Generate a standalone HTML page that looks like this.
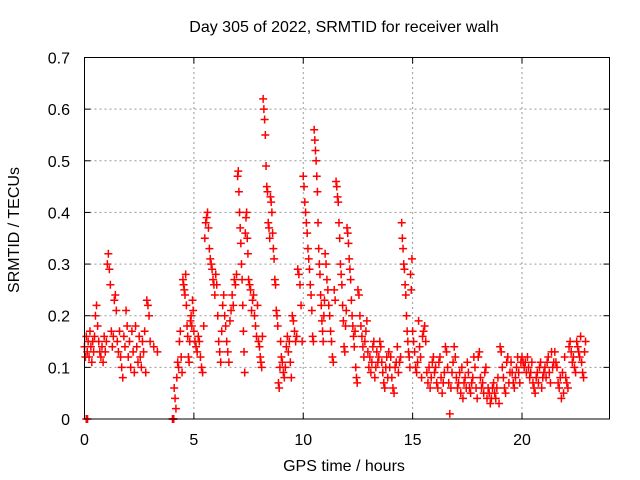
<!DOCTYPE html>
<html><head><meta charset="utf-8">
<style>
body{margin:0;background:#fff;}
svg{display:block;font-family:"Liberation Sans",sans-serif;}
</style></head>
<body>
<svg id="chart" width="640" height="480" viewBox="0 0 640 480" xmlns="http://www.w3.org/2000/svg">
<rect x="0" y="0" width="640" height="480" fill="#fff"/>
<text x="344" y="32" font-size="16" text-anchor="middle" fill="#000">Day 305 of 2022, SRMTID for receiver walh</text>
<text x="0" y="0" font-size="16" text-anchor="middle" fill="#000" transform="translate(19,230) rotate(-90)">SRMTID / TECUs</text>
<text x="344" y="471" font-size="16" text-anchor="middle" fill="#000">GPS time / hours</text>
<g id="grid"></g>
<g id="ticks"></g>
<g id="marks"></g>
<rect x="84.5" y="57.5" width="525" height="361.5" fill="none" stroke="#000" stroke-width="1"/>
</svg>
<script>
const xTicks = [0, 5, 10, 15, 20];
const yTicks = [0, 0.1, 0.2, 0.3, 0.4, 0.5, 0.6, 0.7];
const yTickLabels = ["0", "0.1", "0.2", "0.3", "0.4", "0.5", "0.6", "0.7"];
const segStarts = [0,0.5,1,1.5,2,2.5,3,4.1,4.5,5,5.5,6,6.5,7,7.5,8,8.5,9,9.5,10,10.5,11,11.5,12,12.5,13,13.5,14,14.5,15,15.5,16,16.5,17,17.5,18,18.5,19,19.5,20,20.5,21,21.5,22,22.5];
const segValues = [
[0.14,0.12,0.16,0.13,0.15,0.12,0.17,0.14,0.11,0.15,0.13,0.16],
[0.20,0.22,0.18,0.15,0.13,0.12,0.14,0.11,0.16,0.13],
[0.15,0.30,0.32,0.29,0.26,0.17,0.14,0.16,0.23,0.24,0.21],
[0.15,0.13,0.17,0.12,0.10,0.08,0.16,0.14,0.21,0.18],
[0.12,0.15,0.10,0.17,0.13,0.09,0.18,0.14,0.11],
[0.16,0.12,0.10,0.15,0.13,0.17,0.09,0.23,0.22,0.20],
[0.15,0.14,0.13],
[0.06,0.04,0.02,0.08,0.11,0.10,0.15,0.17,0.12,0.09],
[0.27,0.26,0.25,0.24,0.28,0.22,0.18,0.16,0.12,0.11,0.15,0.19,0.20,0.18,0.23,0.21],
[0.17,0.15,0.14,0.13,0.16,0.15,0.12,0.10,0.09,0.18],
[0.35,0.38,0.39,0.40,0.37,0.33,0.31,0.30,0.29,0.27,0.26,0.24],
[0.28,0.26,0.20,0.15,0.13,0.11,0.17,0.22,0.24,0.20,0.18],
[0.15,0.13,0.11,0.19,0.21,0.24,0.22,0.27,0.26,0.28],
[0.47,0.48,0.44,0.40,0.37,0.34,0.30,0.27,0.22,0.17,0.13,0.09,0.36,0.39,0.40,0.35,0.32],
[0.27,0.26,0.25,0.21,0.23,0.24,0.20,0.18,0.16,0.22,0.15],
[0.14,0.12,0.11,0.10,0.16,0.62,0.60,0.58,0.55,0.49,0.45,0.44,0.38,0.37,0.35],
[0.43,0.42,0.40,0.36,0.33,0.31,0.27,0.26,0.21,0.20,0.18,0.07,0.06,0.10,0.15],
[0.12,0.11,0.09,0.08,0.10,0.14,0.16,0.13,0.15,0.11,0.08],
[0.20,0.19,0.17,0.15,0.16,0.29,0.28,0.26,0.22,0.15],
[0.47,0.45,0.42,0.40,0.38,0.36,0.33,0.31,0.29,0.26,0.24,0.21,0.16,0.15],
[0.56,0.54,0.52,0.50,0.47,0.44,0.38,0.33,0.30,0.28,0.24,0.22,0.19,0.17,0.15,0.20,0.23],
[0.32,0.30,0.27,0.25,0.22,0.20,0.17,0.15,0.12,0.11,0.25,0.23],
[0.46,0.45,0.43,0.42,0.38,0.35,0.30,0.28,0.26,0.22,0.19,0.14,0.13,0.18,0.21],
[0.37,0.36,0.34,0.31,0.29,0.27,0.23,0.20,0.18,0.16,0.14,0.17,0.10,0.08,0.07],
[0.25,0.24,0.20,0.18,0.16,0.14,0.12,0.15,0.17,0.19,0.13],
[0.10,0.12,0.09,0.11,0.14,0.15,0.08,0.10,0.13,0.11,0.12],
[0.15,0.14,0.11,0.09,0.07,0.06,0.10,0.12,0.08,0.13,0.10],
[0.12,0.08,0.06,0.05,0.10,0.11,0.14,0.09,0.11,0.12],
[0.38,0.35,0.33,0.30,0.29,0.26,0.24,0.20,0.17,0.15,0.13,0.12,0.10,0.28,0.25,0.31],
[0.17,0.15,0.13,0.10,0.09,0.11,0.19,0.14,0.12,0.08,0.16],
[0.17,0.18,0.15,0.09,0.07,0.10,0.06,0.08,0.11,0.12],
[0.09,0.10,0.07,0.06,0.11,0.12,0.08,0.05,0.07,0.09],
[0.14,0.13,0.10,0.07,0.01,0.06,0.09,0.11,0.14,0.12],
[0.08,0.06,0.07,0.09,0.05,0.10,0.04,0.07,0.08,0.06],
[0.11,0.09,0.06,0.05,0.07,0.08,0.12,0.10,0.06,0.04],
[0.12,0.13,0.08,0.06,0.07,0.05,0.09,0.10,0.04,0.06],
[0.05,0.03,0.04,0.06,0.07,0.05,0.04,0.06,0.08,0.03],
[0.14,0.13,0.10,0.08,0.06,0.05,0.11,0.12,0.07,0.09],
[0.11,0.09,0.07,0.06,0.08,0.10,0.12,0.09,0.07,0.11],
[0.12,0.11,0.10,0.11,0.09,0.12,0.10,0.08,0.09,0.11],
[0.07,0.06,0.05,0.08,0.09,0.07,0.10,0.11,0.06,0.08],
[0.09,0.10,0.08,0.11,0.12,0.09,0.07,0.13,0.10,0.11],
[0.13,0.11,0.10,0.07,0.06,0.08,0.04,0.09,0.05,0.12],
[0.08,0.07,0.06,0.14,0.15,0.13,0.11,0.12,0.10,0.09],
[0.15,0.14,0.13,0.12,0.16,0.11,0.09,0.08,0.13,0.15]
];
const zeroTimes = [0.08, 0.14, 4.02, 4.05, 4.08];
const zeroValues = [0, 0, 0, 0, 0];

const X0 = 84.5, X1 = 609.5, Y0 = 419, Y1 = 57.5;
const xMax = 24, yMax = 0.7;
function xs(t){ return X0 + (X1 - X0) * t / xMax; }
function ys(v){ return Y0 - (Y0 - Y1) * v / yMax; }
const NS = "http://www.w3.org/2000/svg";
function mk(tag, attrs, parent){
  const e = document.createElementNS(NS, tag);
  for (const k in attrs) e.setAttribute(k, attrs[k]);
  parent.appendChild(e);
  return e;
}
const grid = document.getElementById('grid');
const ticks = document.getElementById('ticks');
const marks = document.getElementById('marks');

xTicks.forEach(t => {
  const x = xs(t);
  if (t > 0) {
    const g = mk('line', {x1:x, y1:Y0, x2:x, y2:Y1, stroke:'#999', 'stroke-dasharray':'2,3', 'stroke-width':1}, grid);
    
    
  }
  mk('line', {x1:x, y1:Y0, x2:x, y2:Y0-6, stroke:'#000'}, ticks);
  mk('line', {x1:x, y1:Y1, x2:x, y2:Y1+6, stroke:'#000'}, ticks);
  const lb = mk('text', {x:x, y:445, 'font-size':16, 'text-anchor':'middle', fill:'#000'}, ticks);
  lb.textContent = String(t);
  
  
});
yTicks.forEach((v, i) => {
  const y = ys(v);
  if (v > 0 && v < yMax) {
    const g = mk('line', {x1:X0, y1:y, x2:X1, y2:y, stroke:'#999', 'stroke-dasharray':'2,3', 'stroke-width':1}, grid);
    
    
  }
  mk('line', {x1:X0, y1:y, x2:X0+6, y2:y, stroke:'#000'}, ticks);
  mk('line', {x1:X1, y1:y, x2:X1-6, y2:y, stroke:'#000'}, ticks);
  const lb = mk('text', {x:70, y:y+6, 'font-size':16, 'text-anchor':'end', fill:'#000'}, ticks);
  lb.textContent = yTickLabels[i];
  
  
});

function cross(t, v, color){
  const x = xs(t), y = ys(v);
  const p = mk('path', {d:`M${x-4},${y}H${x+4}M${x},${y-4}V${y+4}`, stroke:color, 'stroke-width':1.5, fill:'none'}, marks);
  
  
}
segStarts.forEach((s, i) => {
  const vals = segValues[i];
  const next = i + 1 < segStarts.length ? segStarts[i+1] : s + 0.45;
  const w = Math.min(next - s, 0.5);
  vals.forEach((v, j) => cross(s + w * j / vals.length, v, '#ff0000'));
});
zeroTimes.forEach((t, i) => cross(t, zeroValues[i], '#ff0000'));
</script>
</body></html>
